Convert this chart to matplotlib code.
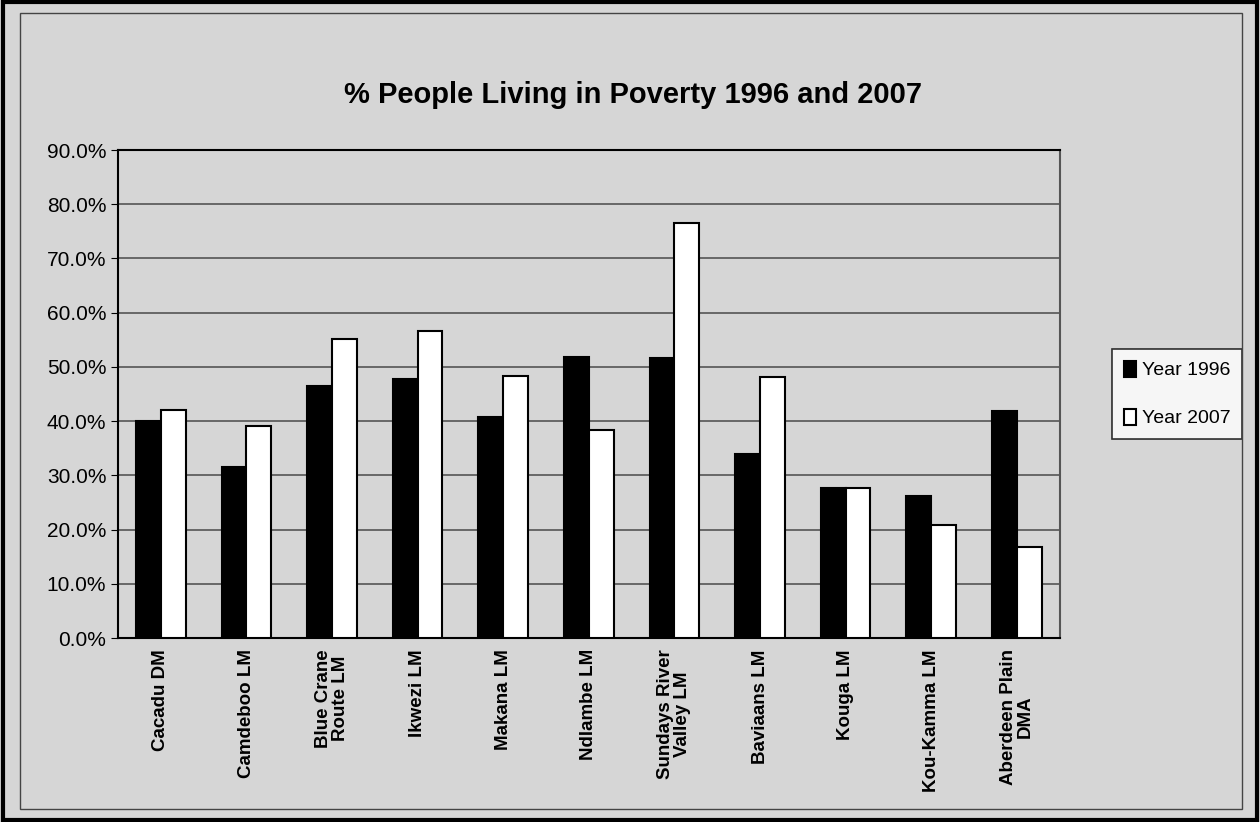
import matplotlib
matplotlib.use("Agg")
import matplotlib.pyplot as plt
from matplotlib.patches import Rectangle
from matplotlib.ticker import FuncFormatter
import numpy as np

plt.rcParams['font.family'] = ['Liberation Sans', 'DejaVu Sans']

municipalities = ["Cacadu DM", "Camdeboo LM", "Blue Crane\nRoute LM", "Ikwezi LM", "Makana LM",
                  "Ndlambe LM", "Sundays River\nValley LM", "Baviaans LM", "Kouga LM",
                  "Kou-Kamma LM", "Aberdeen Plain\nDMA"]
year_1996 = [40.0, 31.6, 46.4, 47.7, 40.8, 51.8, 51.6, 33.9, 27.6, 26.2, 41.8]
year_2007 = [42.0, 39.1, 55.2, 56.6, 48.3, 38.4, 76.5, 48.2, 27.6, 20.8, 16.8]
y_ticks = np.arange(0, 100, 10)

bg = '#d6d6d6'
fig = plt.figure(figsize=(12.6, 8.22), dpi=100, facecolor=bg)
ax = fig.add_axes([0.0937, 0.2238, 0.7473, 0.5937])
ax.set_facecolor(bg)

x = np.arange(len(municipalities))
w = 0.29
ax.bar(x - w / 2, year_1996, w, color='black', edgecolor='black', linewidth=1.5, label='Year 1996', zorder=3)
ax.bar(x + w / 2, year_2007, w, color='white', edgecolor='black', linewidth=1.5, label='Year 2007', zorder=3)

ax.set_xlim(-0.5, len(municipalities) - 0.5)
ax.set_ylim(0, 90)
ax.set_yticks(y_ticks)
ax.yaxis.set_major_formatter(FuncFormatter(lambda v, p: f"{v:.1f}%"))
ax.grid(axis='y', color='#555555', linewidth=1.2, zorder=0)
ax.tick_params(axis='y', labelsize=15, length=5, direction='out')
ax.set_xticks(x)
ax.set_xticklabels(municipalities, rotation=90, fontsize=13.5, fontweight='bold', va='top',
                   linespacing=1.0)
ax.tick_params(axis='x', length=0, pad=8)
for s in ax.spines.values():
    s.set_color('black')
    s.set_linewidth(1.5)
ax.spines['right'].set_color('#555555')

fig.text(0.502, 0.884, "% People Living in Poverty 1996 and 2007", ha='center', va='center',
         fontsize=21, fontweight='bold')

leg = ax.legend(loc='center left', bbox_to_anchor=(1.056, 0.5), fontsize=14, frameon=True,
                fancybox=False, edgecolor='black', handlelength=0.6, handleheight=0.9,
                handletextpad=0.3, labelspacing=1.5, borderpad=0.6, borderaxespad=0)
leg.get_frame().set_linewidth(1.2)

fig.patches.append(Rectangle((0.002, 0.002), 0.996, 0.996, transform=fig.transFigure,
                             fill=False, edgecolor='black', linewidth=3))
fig.patches.append(Rectangle((0.016, 0.016), 0.97, 0.968, transform=fig.transFigure,
                             fill=False, edgecolor='#444444', linewidth=1))

fig.savefig('out.png', dpi=100, facecolor=bg)
